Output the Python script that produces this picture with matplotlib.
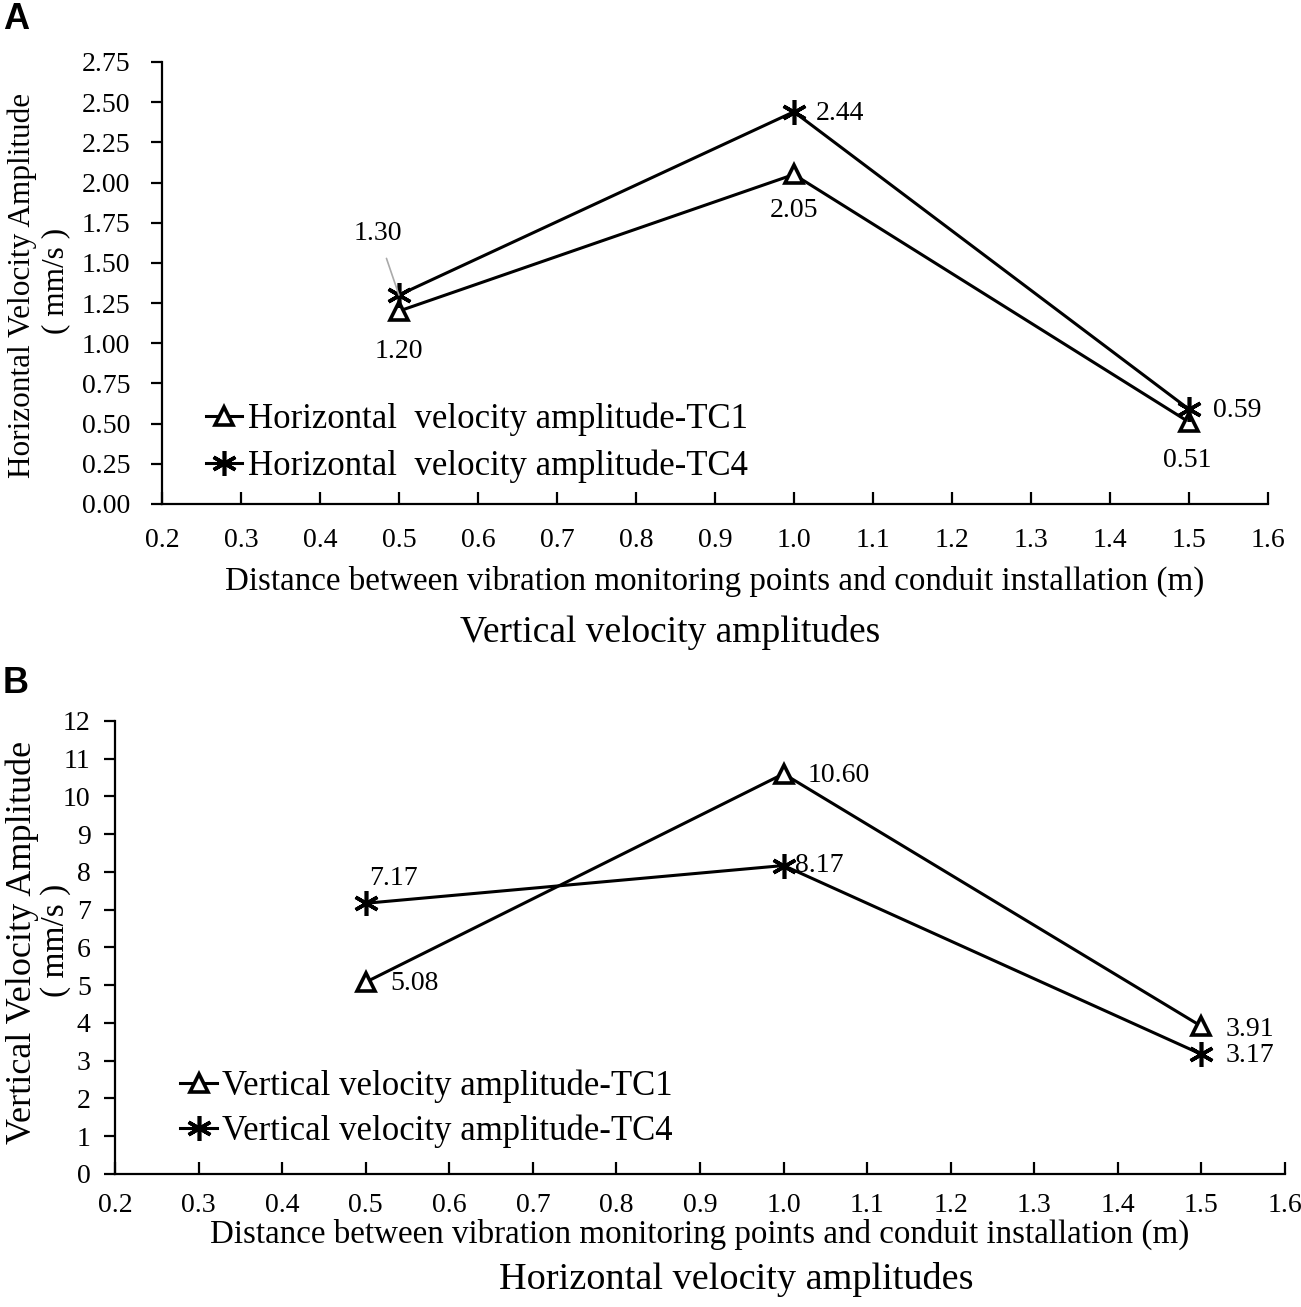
import matplotlib
matplotlib.use('Agg')
import matplotlib.pyplot as plt

plt.rcParams['font.family'] = ['Liberation Serif', 'DejaVu Serif']

# distance between monitoring points and conduit (m)
dist = [0.5, 1.0, 1.5]

# horizontal velocity amplitude (mm/s)
h_tc1 = [1.20, 2.05, 0.51]
h_tc4 = [1.30, 2.44, 0.59]

# vertical velocity amplitude (mm/s)
v_tc1 = [5.08, 10.60, 3.91]
v_tc4 = [7.17, 8.17, 3.17]

x_ticks = [0.2, 0.3, 0.4, 0.5, 0.6, 0.7, 0.8, 0.9, 1.0, 1.1, 1.2, 1.3, 1.4, 1.5, 1.6]
x_ticklabels = ['0.2', '0.3', '0.4', '0.5', '0.6', '0.7', '0.8', '0.9', '1.0',
                '1.1', '1.2', '1.3', '1.4', '1.5', '1.6']
h_yticks = [0, 0.25, 0.5, 0.75, 1.0, 1.25, 1.5, 1.75, 2.0, 2.25, 2.5, 2.75]
v_yticks = list(range(0, 13))

xlab = 'Distance between vibration monitoring points and conduit installation (m)'

tri = dict(marker='^', markersize=13, markerfacecolor='white', markeredgecolor='black', markeredgewidth=2.6)
ast = dict(marker=(6, 2, 0), markersize=18, markeredgecolor='black', markeredgewidth=2.6)

fig = plt.figure(figsize=(13.01, 13.07), dpi=100)


def style_axes(ax, yticks, yfmt, xpad, ypad):
    ax.spines['top'].set_visible(False)
    ax.spines['right'].set_visible(False)
    for s in ['left', 'bottom']:
        ax.spines[s].set_linewidth(1.6)
    ax.set_xlim(0.2, 1.6)
    ax.set_xticks(x_ticks)
    ax.set_xticklabels(x_ticklabels, fontsize=20)
    ax.set_yticks(yticks)
    ax.set_yticklabels([yfmt.format(v) for v in yticks], fontsize=20)
    ax.set_ylim(yticks[0], yticks[-1])
    ax.tick_params(axis='x', direction='in', length=9, width=1.6, pad=xpad)
    ax.tick_params(axis='y', direction='out', length=8, width=1.6, pad=ypad)


def label(ax, text, xy, off, **kw):
    ax.annotate(text, xy=xy, xytext=off, textcoords='offset points',
                ha='center', va='center', fontsize=20, **kw)


# ---- panel A : horizontal
ax1 = fig.add_axes([0.1245, 0.6144, 0.850, 0.3382])
ax1.plot(dist, h_tc1, color='black', lw=2.2, label='Horizontal  velocity amplitude-TC1', **tri)
ax1.plot(dist, h_tc4, color='black', lw=2.2, label='Horizontal  velocity amplitude-TC4', **ast)
style_axes(ax1, h_yticks, '{:.2f}', 17.5, 15)
ax1.set_xlabel(xlab, fontsize=23.8, labelpad=9)

label(ax1, '{:.2f}'.format(h_tc4[0]), (dist[0], h_tc4[0]), (-15, 44),
      arrowprops=dict(arrowstyle='-', color='#aaaaaa', lw=1.2, shrinkA=7, shrinkB=0))
label(ax1, '{:.2f}'.format(h_tc1[0]), (dist[0], h_tc1[0]), (0, -29))
label(ax1, '{:.2f}'.format(h_tc4[1]), (dist[1], h_tc4[1]), (33, -1))
label(ax1, '{:.2f}'.format(h_tc1[1]), (dist[1], h_tc1[1]), (0, -26))
label(ax1, '{:.2f}'.format(h_tc4[2]), (dist[2], h_tc4[2]), (35, -1))
label(ax1, '{:.2f}'.format(h_tc1[2]), (dist[2], h_tc1[2]), (-1, -28))

ax1.legend(loc='lower left', bbox_to_anchor=(0.024, 0.0074), frameon=False, fontsize=25,
           handlelength=1.05, handletextpad=0.15, labelspacing=0.385, borderpad=0.0)

# ---- panel B : vertical
ax2 = fig.add_axes([0.0884, 0.1018, 0.8993, 0.3466])
ax2.plot(dist, v_tc1, color='black', lw=2.2, label='Vertical velocity amplitude-TC1', **tri)
ax2.plot(dist, v_tc4, color='black', lw=2.2, label='Vertical velocity amplitude-TC4', **ast)
style_axes(ax2, v_yticks, '{:d}', 14, 9.5)
ax2.set_xlabel(xlab, fontsize=23.8, labelpad=0)

label(ax2, '{:.2f}'.format(v_tc4[0]), (dist[0], v_tc4[0]), (20, 18))
label(ax2, '{:.2f}'.format(v_tc1[0]), (dist[0], v_tc1[0]), (35, -1))
label(ax2, '{:.2f}'.format(v_tc1[1]), (dist[1], v_tc1[1]), (40, -1))
label(ax2, '{:.2f}'.format(v_tc4[1]), (dist[1], v_tc4[1]), (26, 0))
label(ax2, '{:.2f}'.format(v_tc1[2]), (dist[2], v_tc1[2]), (35, -2))
label(ax2, '{:.2f}'.format(v_tc4[2]), (dist[2], v_tc4[2]), (35, -1))

ax2.legend(loc='lower left', bbox_to_anchor=(0.041, 0.018), frameon=False, fontsize=25,
           handlelength=1.05, handletextpad=0.15, labelspacing=0.33, borderpad=0.0)

# y labels, rotated, two lines drawn separately
fig.text(22 / 1301, 1 - 285 / 1307, 'Horizontal Velocity Amplitude', rotation=90, fontsize=22.5,
         ha='center', va='center')
fig.text(56 / 1301, 1 - 281 / 1307, '( mm/s )', rotation=90, fontsize=22.5,
         ha='center', va='center')
fig.text(22 / 1301, 1 - 942 / 1307, 'Vertical Velocity Amplitude', rotation=90, fontsize=26,
         ha='center', va='center')
fig.text(56 / 1301, 1 - 940 / 1307, '( mm/s )', rotation=90, fontsize=24,
         ha='center', va='center')

# subtitles
fig.text(0.515, 0.516, 'Vertical velocity amplitudes', fontsize=27, ha='center', va='center')
fig.text(0.566, 0.021, 'Horizontal velocity amplitudes', fontsize=27.5, ha='center', va='center')

# panel letters
fig.text(0.002, 0.985, 'A', fontsize=26, fontweight='bold', family='Liberation Sans', va='center')
fig.text(0.002, 0.477, 'B', fontsize=26, fontweight='bold', family='Liberation Sans', va='center')

fig.savefig('out.png', dpi=100)
